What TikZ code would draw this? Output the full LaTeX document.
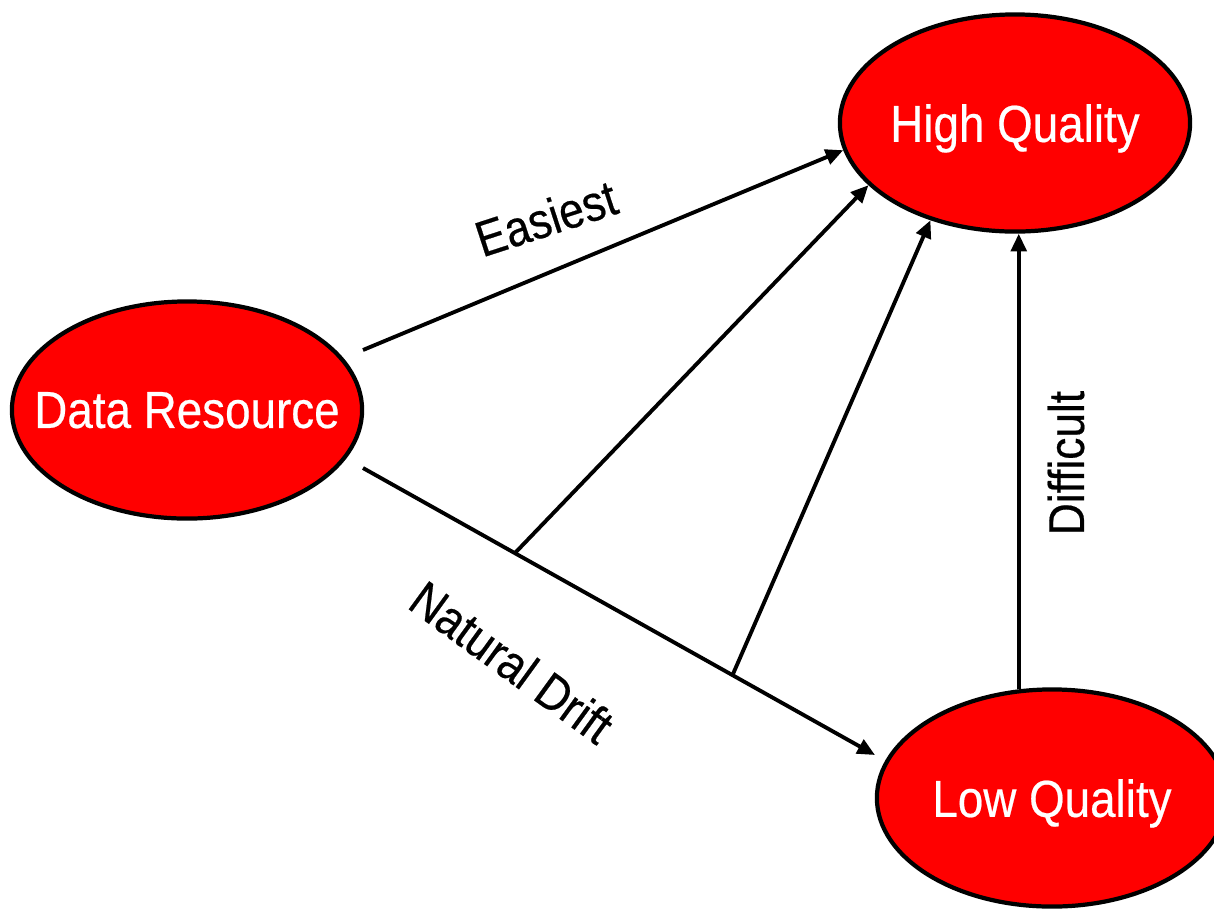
\documentclass[tikz,border=0pt]{standalone}
\usepackage{fontspec}
\setmainfont[FakeStretch=0.88,FakeBold=0.4]{Liberation Sans}
\usetikzlibrary{arrows.meta,shapes.geometric}

\tikzset{
  state/.style={ellipse, draw, fill=red, line width=1.2pt, minimum width=3.5cm,
    minimum height=2.17cm, inner sep=0pt, text depth=0pt, text=white,
    font=\fontsize{14.8}{17}\selectfont,
    execute at begin node={\hbox to 0pt\bgroup\hss}, execute at end node={\hss\egroup}},
  lbl/.style={font=\fontsize{14.3}{16}\selectfont, inner sep=0pt},
  arr/.style={line width=1.1pt, -{Triangle[length=5pt,width=4.4pt]}}
}

\begin{document}
\begin{tikzpicture}[x=0.01cm, y=-0.01cm]

\useasboundingbox (0,0) rectangle (1214,908);

\node[state] (dr) at (187,410) {Data Resource};
\node[state] (hq) at (1015,123) {High Quality};
\node[state] (lq) at (1052,798) {Low Quality};

\coordinate (e0) at (363,350);
\coordinate (d0) at (363,468);
\coordinate (d1) at (875,755);
\coordinate (b1) at (515,553);
\coordinate (b2) at (733,674);

\draw[arr] (e0) -- (hq.189);
\draw[arr] (d0) -- (d1);
\draw[arr] (b1) -- (hq.203);
\draw[arr] (b2) -- (hq.229);
\draw[arr] (lq.107) -- (lq.107 |- hq.south);

\node[lbl, rotate=18] (easy) at (546,218) {Easiest};
\node[lbl, rotate=-36] (drift) at (512,662) {Natural Drift};
\node[lbl, rotate=90] (hard) at (1066,463) {Difficult};

\end{tikzpicture}
\end{document}
